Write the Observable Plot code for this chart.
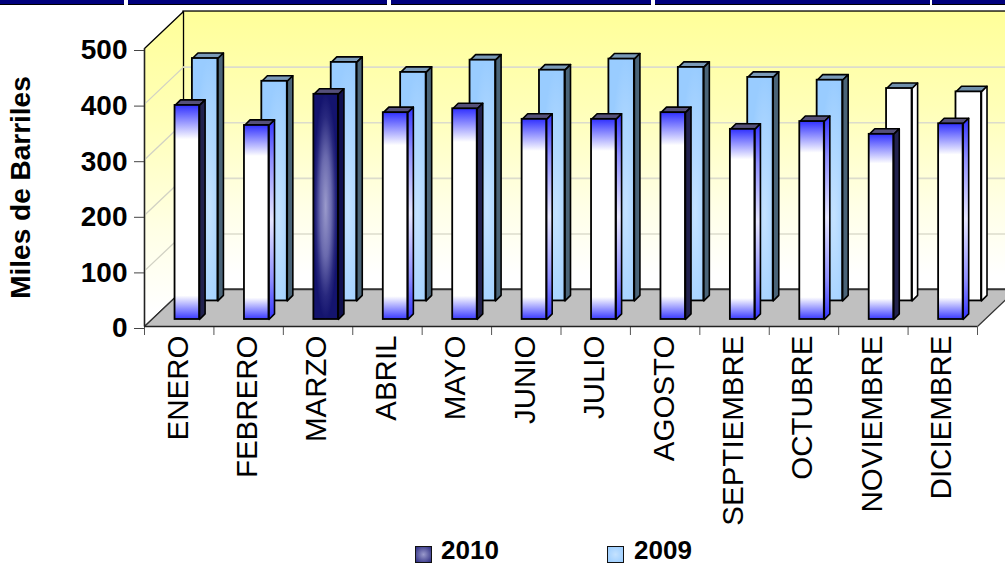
<!DOCTYPE html>
<html>
<head>
<meta charset="utf-8">
<script src="https://cdn.jsdelivr.net/npm/d3@7"></script>
<script src="https://cdn.jsdelivr.net/npm/@observablehq/plot@0.6"></script>
<style>
html,body{margin:0;padding:0;background:#fff;overflow:hidden;width:1005px;height:564px}
#wrap{position:relative;width:1005px;height:564px;font-family:"Liberation Sans",Arial,sans-serif}
#chart svg{display:block}
.strip{position:absolute;top:0;height:3.5px;background:#00007c;border-bottom:1px solid #000}
#legend{position:absolute;left:0;top:540px;width:1005px;height:24px;font-weight:bold;font-size:26px;color:#000}
#legend span{position:absolute;top:-2px;line-height:24px}
#legend i{position:absolute;top:6px;width:15px;height:15px;border:1.5px solid #111}
</style>
</head>
<body>
<div id="wrap"><div id="chart"></div><div id="legend"></div></div>
<script>
const months = ["ENERO","FEBRERO","MARZO","ABRIL","MAYO","JUNIO","JULIO","AGOSTO","SEPTIEMBRE","OCTUBRE","NOVIEMBRE","DICIEMBRE"];
const v2010 = [385,349,405,372,379,360,360,372,342,356,333,352];
const v2009 = [436,395,429,411,433,415,435,420,402,397,382,376];
const yTicks = [0,100,200,300,400,500];
const yTitle = "Miles de Barriles";
const seriesNames = ["2010","2009"];
const highlighted = ["MARZO"];
const whiteBack = ["NOVIEMBRE","DICIEMBRE"];
const darkSide = ["ENERO","MAYO","AGOSTO","NOVIEMBRE"];

// 3-D projection expressed in scale units
const floorDX = 0.562, floorDY = 66.5;
const barDX = 0.08, barDY = 10;

const rows = months.map((m,i)=>({m,i,front:v2010[i],back:v2009[i]}));

function poly(list, pts){ // list of rows -> closed polygon vertices
  return list.flatMap(d => pts(d).map(([x,y]) => ({id:d.m,x,y})));
}
function box(list, key, off, w, base, face, side, top){
  const x0 = d=>d.i+off, x1 = d=>d.i+off+w, y0 = base, y1 = d=>base+d[key];
  const common = {x:"x",y:"y",z:"id",curve:"linear-closed",stroke:"#000",strokeWidth:1.6,strokeLinejoin:"round"};
  return [
    Plot.line(poly(list,d=>[[x0(d),y1(d)],[x1(d),y1(d)],[x1(d)+barDX,y1(d)+barDY],[x0(d)+barDX,y1(d)+barDY]]),{...common,fill:top}),
    Plot.line(poly(list,d=>[[x1(d),y0],[x1(d)+barDX,y0+barDY],[x1(d)+barDX,y1(d)+barDY],[x1(d),y1(d)]]),{...common,fill:side}),
    Plot.rect(list,{x1:x0,x2:x1,y1:()=>y0,y2:y1,fill:face,stroke:"#000",strokeWidth:1.8})
  ];
}
const has = (arr,d)=>arr.includes(d.m);
const backPlain = rows.filter(d=>!has(whiteBack,d));
const backWhite = rows.filter(d=>has(whiteBack,d));
const frontHi = rows.filter(d=>has(highlighted,d));
const frontDark = rows.filter(d=>!has(highlighted,d)&&has(darkSide,d));
const frontBlue = rows.filter(d=>!has(highlighted,d)&&!has(darkSide,d));

const defs = () => {
  const s = d3.create("svg:defs");
  const lin = (id,dir,stops)=>{
    const g = s.append("linearGradient").attr("id",id).attr("x1",0).attr("y1",0).attr("x2",dir==="h"?1:0).attr("y2",dir==="h"?0:1);
    stops.forEach(([o,c])=>g.append("stop").attr("offset",o).attr("stop-color",c));
  };
  const rad = (id,cx,cy,r0,stops)=>{
    const g = s.append("radialGradient").attr("id",id).attr("cx",cx).attr("cy",cy).attr("r",r0);
    stops.forEach(([o,c])=>g.append("stop").attr("offset",o).attr("stop-color",c));
  };
  lin("wall","v",[[0,"#ffff99"],[0.35,"#ffffb8"],[0.7,"#ffffe6"],[0.95,"#ffffff"]]);
  lin("face","v",[[0,"#3030ff"],[0.16,"#ffffff"],[0.89,"#ffffff"],[1,"#3a3aff"]]);
  lin("sideBlue","v",[[0,"#3333ff"],[0.2,"#8f8fff"],[0.5,"#e6e6ff"],[0.8,"#8f8fff"],[1,"#3333ff"]]);
  rad("back",0.68,0.62,0.62,[[0,"#c4e2ff"],[1,"#99ccff"]]);
  rad("hi",0.5,0.5,0.5,[[0,"#9a9acc"],[0.45,"#6a6aae"],[0.8,"#28287e"],[1,"#14146e"]]);
  return s.node();
};

const wallPts = [[0,0],[floorDX,floorDY],[floorDX,500+floorDY],[0,500]];
const floorPts = [[0,0],[floorDX,floorDY],[12+floorDX,floorDY],[12,0]];
const asPts = pts => pts.map(([x,y])=>({x,y}));
const gridVals = yTicks.slice(1,-1);
const sideGrid = gridVals.flatMap(v=>[{id:v,x:0,y:v},{id:v,x:floorDX,y:v+floorDY}]);

const chart = Plot.plot({
  width:1005, height:540,
  marginLeft:144, marginRight:28, marginTop:48, marginBottom:214,
  x:{domain:[0,12]}, y:{domain:[0,500]},
  style:{fontFamily:'"Liberation Sans",Arial,sans-serif',background:"transparent",color:"#000"},
  marks:[
    defs,
    // walls
    Plot.rect([{}],{x1:()=>floorDX,x2:()=>12+floorDX+0.5,y1:()=>floorDY,y2:()=>500+floorDY,fill:"url(#wall)",stroke:"#000",strokeWidth:1.3}),
    Plot.line(asPts(wallPts),{x:"x",y:"y",curve:"linear-closed",fill:"url(#wall)",stroke:"#000",strokeWidth:1.3}),
    // gridlines
    Plot.ruleY(gridVals,{y:v=>v+floorDY,x1:()=>floorDX,x2:()=>12+floorDX+0.5,stroke:"#dcdccc",strokeWidth:1.6}),
    Plot.line(sideGrid,{x:"x",y:"y",z:"id",stroke:"#d2d2c4",strokeWidth:1.3}),
    // floor
    Plot.line(asPts(floorPts),{x:"x",y:"y",curve:"linear-closed",fill:"#c0c0c0",stroke:"#333",strokeWidth:1.2}),
    // back series
    ...box(backPlain,"back",0.69,0.367,46,"url(#back)","#4a6478","#7a9ab8"),
    ...box(backWhite,"back",0.69,0.367,46,"#ffffff","#ffffff","#6f8faa"),
    // front series
    ...box(frontDark,"front",0.44,0.353,12.6,"url(#face)","#22224f","#55507a"),
    ...box(frontBlue,"front",0.44,0.353,12.6,"url(#face)","url(#sideBlue)","#55507a"),
    ...box(frontHi,"front",0.44,0.353,12.6,"url(#hi)","#10104f","#55507a"),
    // axes
    Plot.axisY({ticks:yTicks,anchor:"left",tickSize:10,tickPadding:7,fontSize:28,fontWeight:"bold",stroke:"#444",fill:"#000",dy:2,label:null}),
    Plot.axisX({ticks:d3.range(13),anchor:"bottom",tickSize:9,tickFormat:()=>"",stroke:"#555",label:null}),
    Plot.axisX({ticks:months.map((m,i)=>i+.5),anchor:"bottom",tickSize:0,tickPadding:9,tickRotate:-90,tickFormat:x=>months[x-.5],fontSize:29.5,fill:"#000",dx:-1,label:null}),
    Plot.ruleY([0],{stroke:"#222",strokeWidth:1.3}),
    Plot.ruleX([0],{stroke:"#222",strokeWidth:1.3}),
    Plot.text([yTitle],{frameAnchor:"left",textAnchor:"middle",dx:-123,rotate:-90,fontSize:28,fontWeight:"bold",fill:"#000"})
  ]
});
document.getElementById("chart").append(chart);

// navy strips at the page top
const wrap = document.getElementById("wrap");
[[0,124],[128,259],[391,260],[655,275],[932,73]].forEach(([l,w])=>{
  const d=document.createElement("div");d.className="strip";d.style.left=l+"px";d.style.width=w+"px";wrap.append(d);
});
// legend
const legend = document.getElementById("legend");
const swatches = ["radial-gradient(#9a9acc,#2a2a80)","radial-gradient(#c4e2ff,#99ccff)"];
[[415,441],[607,634]].forEach(([sx,tx],i)=>{
  const sw=document.createElement("i");sw.style.left=sx+"px";sw.style.background=swatches[i];legend.append(sw);
  const t=document.createElement("span");t.style.left=tx+"px";t.textContent=seriesNames[i];legend.append(t);
});
</script>
</body>
</html>
